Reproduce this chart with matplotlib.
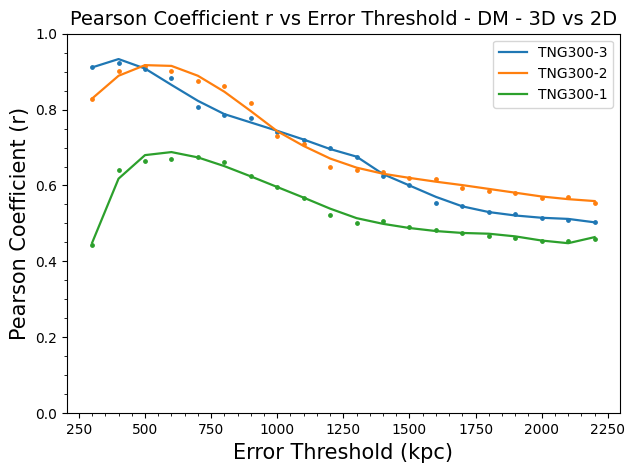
import numpy as np
import matplotlib.pyplot as plt
from matplotlib.ticker import AutoMinorLocator

# Error thresholds (kpc)
thresholds = np.arange(300, 2300, 100)

# Scatter points (raw Pearson r)
r_tng3 = [0.911, 0.922, 0.908, 0.882, 0.807, 0.786, 0.778, 0.741, 0.720, 0.698,
          0.675, 0.624, 0.602, 0.555, 0.546, 0.530, 0.525, 0.515, 0.510, 0.503]
r_tng2 = [0.829, 0.901, 0.915, 0.901, 0.874, 0.861, 0.818, 0.731, 0.708, 0.649,
          0.642, 0.636, 0.621, 0.616, 0.593, 0.585, 0.581, 0.567, 0.570, 0.555]
r_tng1 = [0.442, 0.640, 0.665, 0.670, 0.674, 0.662, 0.624, 0.595, 0.568, 0.523,
          0.502, 0.506, 0.490, 0.484, 0.475, 0.468, 0.463, 0.453, 0.455, 0.458]

# Smoothed curves
s_tng3 = [0.911, 0.933, 0.908, 0.865, 0.823, 0.788, 0.766, 0.744, 0.721, 0.696,
          0.676, 0.630, 0.600, 0.570, 0.545, 0.530, 0.521, 0.515, 0.512, 0.503]
s_tng2 = [0.829, 0.889, 0.917, 0.915, 0.889, 0.847, 0.796, 0.743, 0.704, 0.671,
          0.647, 0.631, 0.620, 0.610, 0.601, 0.591, 0.581, 0.571, 0.564, 0.559]
s_tng1 = [0.449, 0.618, 0.680, 0.688, 0.674, 0.651, 0.624, 0.596, 0.568, 0.539,
          0.514, 0.499, 0.488, 0.480, 0.475, 0.473, 0.466, 0.455, 0.448, 0.464]

labels = ['TNG300-3', 'TNG300-2', 'TNG300-1']
colors = ['tab:blue', 'tab:orange', 'tab:green']

fig, ax = plt.subplots(figsize=(6.26, 4.67), dpi=100)
fig.subplots_adjust(left=0.107, right=0.99, top=0.928, bottom=0.115)

for pts, smooth, lab, c in zip([r_tng3, r_tng2, r_tng1], [s_tng3, s_tng2, s_tng1], labels, colors):
    ax.scatter(thresholds, pts, s=6, color=c)
    ax.plot(thresholds, smooth, color=c, lw=1.6, label=lab)

ax.set_ylim(0, 1.0)
ax.xaxis.set_minor_locator(AutoMinorLocator(5))
ax.yaxis.set_minor_locator(AutoMinorLocator(4))
ax.set_title('Pearson Coefficient r vs Error Threshold - DM - 3D vs 2D', fontsize=14)
ax.set_xlabel('Error Threshold (kpc)', fontsize=15)
ax.set_ylabel('Pearson Coefficient (r)', fontsize=15)
ax.legend(loc='upper right')

plt.savefig('out.png')
